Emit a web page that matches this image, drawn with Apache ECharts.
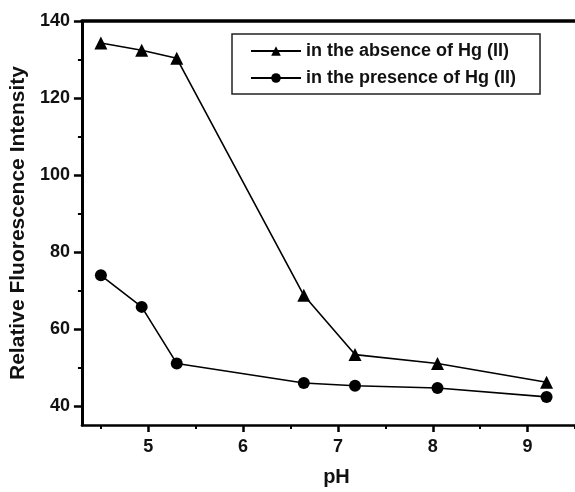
<!DOCTYPE html>
<html>
<head>
<meta charset="utf-8">
<script src="https://cdn.jsdelivr.net/npm/echarts@6/dist/echarts.min.js"></script>
<style>
html,body{margin:0;padding:0;background:#fff;}
#chart{width:575px;height:492px;}
</style>
</head>
<body>
<div id="chart"></div>
<script>
const pH = [4.5, 4.93, 5.3, 6.64, 7.18, 8.05, 9.2];
const absence = [134.3, 132.4, 130.3, 68.7, 53.3, 51.0, 46.1];
const presence = [73.9, 65.7, 51.0, 45.9, 45.2, 44.6, 42.3];
const xLabels = [5, 6, 7, 8, 9];
const xMinor = [4.5, 5.5, 6.5, 7.5, 8.5, 9.5];
const yLabels = [40, 60, 80, 100, 120, 140];
const yMinor = [50, 70, 90, 110, 130];
const seriesNames = ['in the absence of Hg (II)', 'in the presence of Hg (II)'];

const font = 'Liberation Sans, Arial, Helvetica, sans-serif';
const chart = echarts.init(document.getElementById('chart'));
const X_MIN = 4.3, X_MAX = 9.5, Y_MIN = 35, Y_MAX = 140;

chart.setOption({
  animation: false,
  backgroundColor: '#fff',
  grid: {left: 79, top: 21, right: 0, bottom: 67},
  legend: {
    orient: 'vertical', left: 232, top: 34,
    padding: [8, 24, 7, 18], itemGap: 9,
    itemWidth: 50, itemHeight: 12,
    borderColor: '#222', borderWidth: 1.5,
    textStyle: {fontFamily: font, fontWeight: 'bold', fontSize: 18, color: '#111'},
    data: seriesNames
  },
  xAxis: [
    {
      type: 'value', min: X_MIN, max: X_MAX, position: 'bottom', offset: 0,
      name: 'pH', nameLocation: 'middle', nameGap: 42,
      nameTextStyle: {fontFamily: font, fontWeight: 'bold', fontSize: 20, color: '#111', padding: [0, 0, 0, 16]},
      axisLine: {show: true, lineStyle: {color: '#000', width: 2.5}},
      axisTick: {show: true, inside: false, length: 7, lineStyle: {color: '#000', width: 2.5}, customValues: xLabels},
      axisLabel: {show: true, margin: 13, fontFamily: font, fontWeight: 'bold', fontSize: 18, color: '#111', customValues: xLabels},
      splitLine: {show: false}
    },
    {
      type: 'value', min: X_MIN, max: X_MAX, position: 'bottom', offset: 0,
      axisLine: {show: false},
      axisTick: {show: true, inside: false, length: 4, lineStyle: {color: '#000', width: 2}, customValues: xMinor},
      axisLabel: {show: false},
      splitLine: {show: false}
    },
    {
      type: 'value', min: X_MIN, max: X_MAX, position: 'top', offset: 0,
      axisLine: {show: true, lineStyle: {color: '#000', width: 3.5}},
      axisTick: {show: false}, axisLabel: {show: false}, splitLine: {show: false}
    }
  ],
  yAxis: [
    {
      type: 'value', min: Y_MIN, max: Y_MAX, position: 'left', offset: 0,
      name: 'Relative Fluorescence Intensity', nameLocation: 'middle', nameGap: 48,
      nameTextStyle: {fontFamily: font, fontWeight: 'bold', fontSize: 21, color: '#111'},
      axisLine: {show: true, lineStyle: {color: '#000', width: 3}},
      axisTick: {show: true, inside: false, length: 8, lineStyle: {color: '#000', width: 2.5}, customValues: yLabels},
      axisLabel: {show: true, margin: 12, fontFamily: font, fontWeight: 'bold', fontSize: 18, color: '#111', customValues: yLabels},
      splitLine: {show: false}
    },
    {
      type: 'value', min: Y_MIN, max: Y_MAX, position: 'left', offset: 0,
      axisLine: {show: false},
      axisTick: {show: true, inside: false, length: 4, lineStyle: {color: '#000', width: 2}, customValues: yMinor},
      axisLabel: {show: false},
      splitLine: {show: false}
    }
  ],
  series: [
    {
      name: seriesNames[0], type: 'line', xAxisIndex: 0, yAxisIndex: 0,
      data: pH.map((x, i) => [x, absence[i]]),
      symbol: 'triangle', symbolSize: 13,
      lineStyle: {color: '#000', width: 1.6},
      itemStyle: {color: '#000'}
    },
    {
      name: seriesNames[1], type: 'line', xAxisIndex: 0, yAxisIndex: 0,
      data: pH.map((x, i) => [x, presence[i]]),
      symbol: 'circle', symbolSize: 12,
      lineStyle: {color: '#000', width: 1.6},
      itemStyle: {color: '#000'}
    }
  ]
});
</script>
</body>
</html>
